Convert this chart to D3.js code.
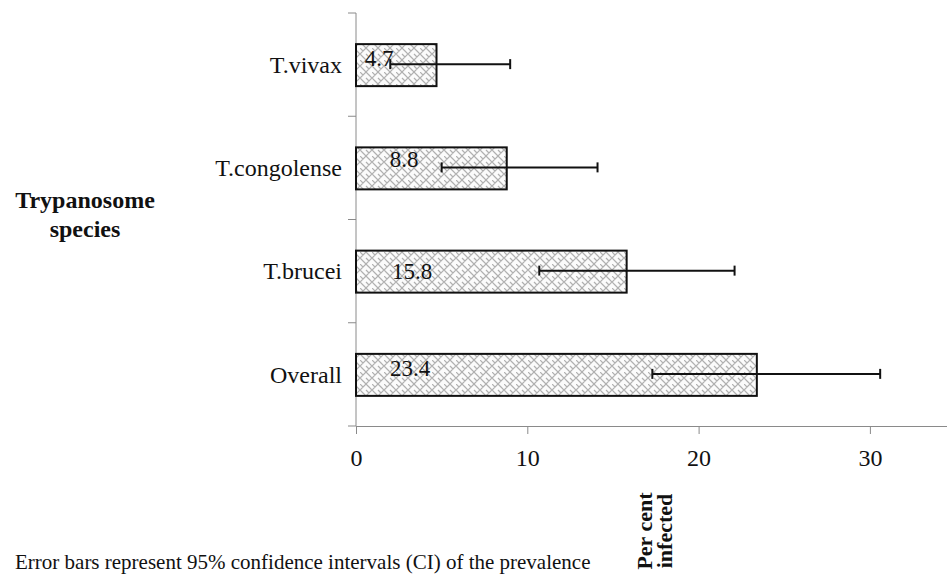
<!DOCTYPE html>
<html>
<head>
<meta charset="utf-8">
<script src="https://cdn.jsdelivr.net/npm/d3@7"></script>
<style>
  html, body { margin: 0; padding: 0; background: #fff; }
  svg, svg text { font-family: "Liberation Serif", "Times New Roman", Times, serif !important; }
</style>
</head>
<body>
<div id="chart"></div>
<script>
const categories = ["T.vivax", "T.congolense", "T.brucei", "Overall"];
const prevalence = [4.7, 8.8, 15.8, 23.4];
const ciLower = [2.0, 5.0, 10.7, 17.3];
const ciUpper = [9.0, 14.1, 22.1, 30.6];
const xTicks = [0, 10, 20, 30];

const width = 947, height = 579;
const plotLeft = 356, plotTop = 13, plotBottom = 426;

const svg = d3.select('#chart')
  .append('svg')
  .attr('width', width)
  .attr('height', height);

// weave-like fill for the bars
const defs = svg.append('defs');
const pat = defs.append('pattern')
  .attr('id', 'weave')
  .attr('patternUnits', 'userSpaceOnUse')
  .attr('width', 12)
  .attr('height', 12);
pat.append('rect').attr('width', 12).attr('height', 12).attr('fill', '#fbfbfb');
pat.append('path')
  .attr('d', 'M0,6 L6,0 M6,12 L12,6 M0,0 L3,3 M6,6 L9,9 M9,3 L12,6 M3,9 L6,12 M6,0 L9,3 M0,6 L3,9')
  .attr('fill', 'none')
  .attr('stroke', '#b0b0b0')
  .attr('stroke-width', 1.2);

const x = d3.scaleLinear()
  .domain([0, 35])
  .range([plotLeft, plotLeft + 35 * 17.13]);
const y = d3.scaleBand()
  .domain(categories)
  .range([plotTop, plotBottom]);

const barH = 42;
const rows = categories.map((c, i) => ({
  cat: c, value: prevalence[i], lo: ciLower[i], hi: ciUpper[i]
}));

// x axis
const xAxis = svg.append('g')
  .attr('transform', `translate(0, ${plotBottom})`)
  .call(d3.axisBottom(x).tickValues(xTicks).tickSize(8).tickSizeOuter(0).tickPadding(15));
xAxis.attr('font-family', null);
xAxis.select('.domain').attr('stroke', '#8a8a8a');
xAxis.selectAll('.tick line').attr('stroke', '#8a8a8a');
xAxis.selectAll('.tick text')
  .attr('font-size', 24)
  .attr('fill', '#111');

// y axis (category boundaries carry the ticks)
const yAxis = svg.append('g');
yAxis.append('line')
  .attr('x1', plotLeft).attr('x2', plotLeft)
  .attr('y1', plotTop).attr('y2', plotBottom)
  .attr('stroke', '#8a8a8a');
yAxis.selectAll('line.tk')
  .data(categories.map(c => y(c)).concat([plotBottom]))
  .join('line')
  .attr('class', 'tk')
  .attr('x1', plotLeft - 8).attr('x2', plotLeft)
  .attr('y1', d => d).attr('y2', d => d)
  .attr('stroke', '#8a8a8a');
yAxis.selectAll('text')
  .data(categories)
  .join('text')
  .attr('x', plotLeft - 14)
  .attr('y', d => y(d) + y.bandwidth() / 2)
  .attr('dy', '0.34em')
  .attr('text-anchor', 'end')
  .attr('font-size', 24)
  .attr('fill', '#111')
  .text(d => d);

// bars
svg.append('g')
  .selectAll('rect')
  .data(rows)
  .join('rect')
  .attr('x', x(0))
  .attr('y', d => y(d.cat) + y.bandwidth() / 2 - barH / 2 + 0.5)
  .attr('width', d => x(d.value) - x(0))
  .attr('height', barH)
  .attr('fill', 'url(#weave)')
  .attr('stroke', '#111')
  .attr('stroke-width', 2);

// value labels, nudged the way they sit in the original
const labelShift = [[23, 1], [48, -1], [56, 8], [54, 2]];
svg.append('g')
  .selectAll('text')
  .data(rows)
  .join('text')
  .attr('x', (d, i) => x(0) + labelShift[i][0])
  .attr('y', (d, i) => y(d.cat) + y.bandwidth() / 2 + labelShift[i][1])
  .attr('text-anchor', 'middle')
  .attr('font-size', 23)
  .attr('fill', '#111')
  .text(d => d.value.toFixed(1));

// error bars
const err = svg.append('g').attr('stroke', '#111').attr('stroke-width', 2);
rows.forEach(d => {
  const cy = y(d.cat) + y.bandwidth() / 2 - 0.5;
  err.append('line').attr('x1', x(d.lo)).attr('x2', x(d.hi)).attr('y1', cy).attr('y2', cy);
  [d.lo, d.hi].forEach(v => {
    err.append('line').attr('x1', x(v)).attr('x2', x(v)).attr('y1', cy - 5).attr('y2', cy + 5);
  });
});

// axis titles
const yTitle = svg.append('text')
  .attr('x', 85)
  .attr('text-anchor', 'middle')
  .attr('font-size', 24)
  .attr('font-weight', 'bold')
  .attr('fill', '#111');
yTitle.append('tspan').attr('x', 85).attr('y', 208).text('Trypanosome');
yTitle.append('tspan').attr('x', 85).attr('y', 237).text('species');

const xTitle = svg.append('text')
  .attr('transform', `translate(${x(17.5) - 4}, 531) rotate(-90)`)
  .attr('text-anchor', 'middle')
  .attr('font-size', 22)
  .attr('font-weight', 'bold')
  .attr('fill', '#111');
xTitle.append('tspan').attr('x', 0).attr('y', 0).text('Per cent');
xTitle.append('tspan').attr('x', 0).attr('y', 20).text('infected');

svg.append('text')
  .attr('x', 15)
  .attr('y', 569)
  .attr('font-size', 21)
  .attr('fill', '#111')
  .text('Error bars represent 95% confidence intervals (CI) of the prevalence');
</script>
</body>
</html>
